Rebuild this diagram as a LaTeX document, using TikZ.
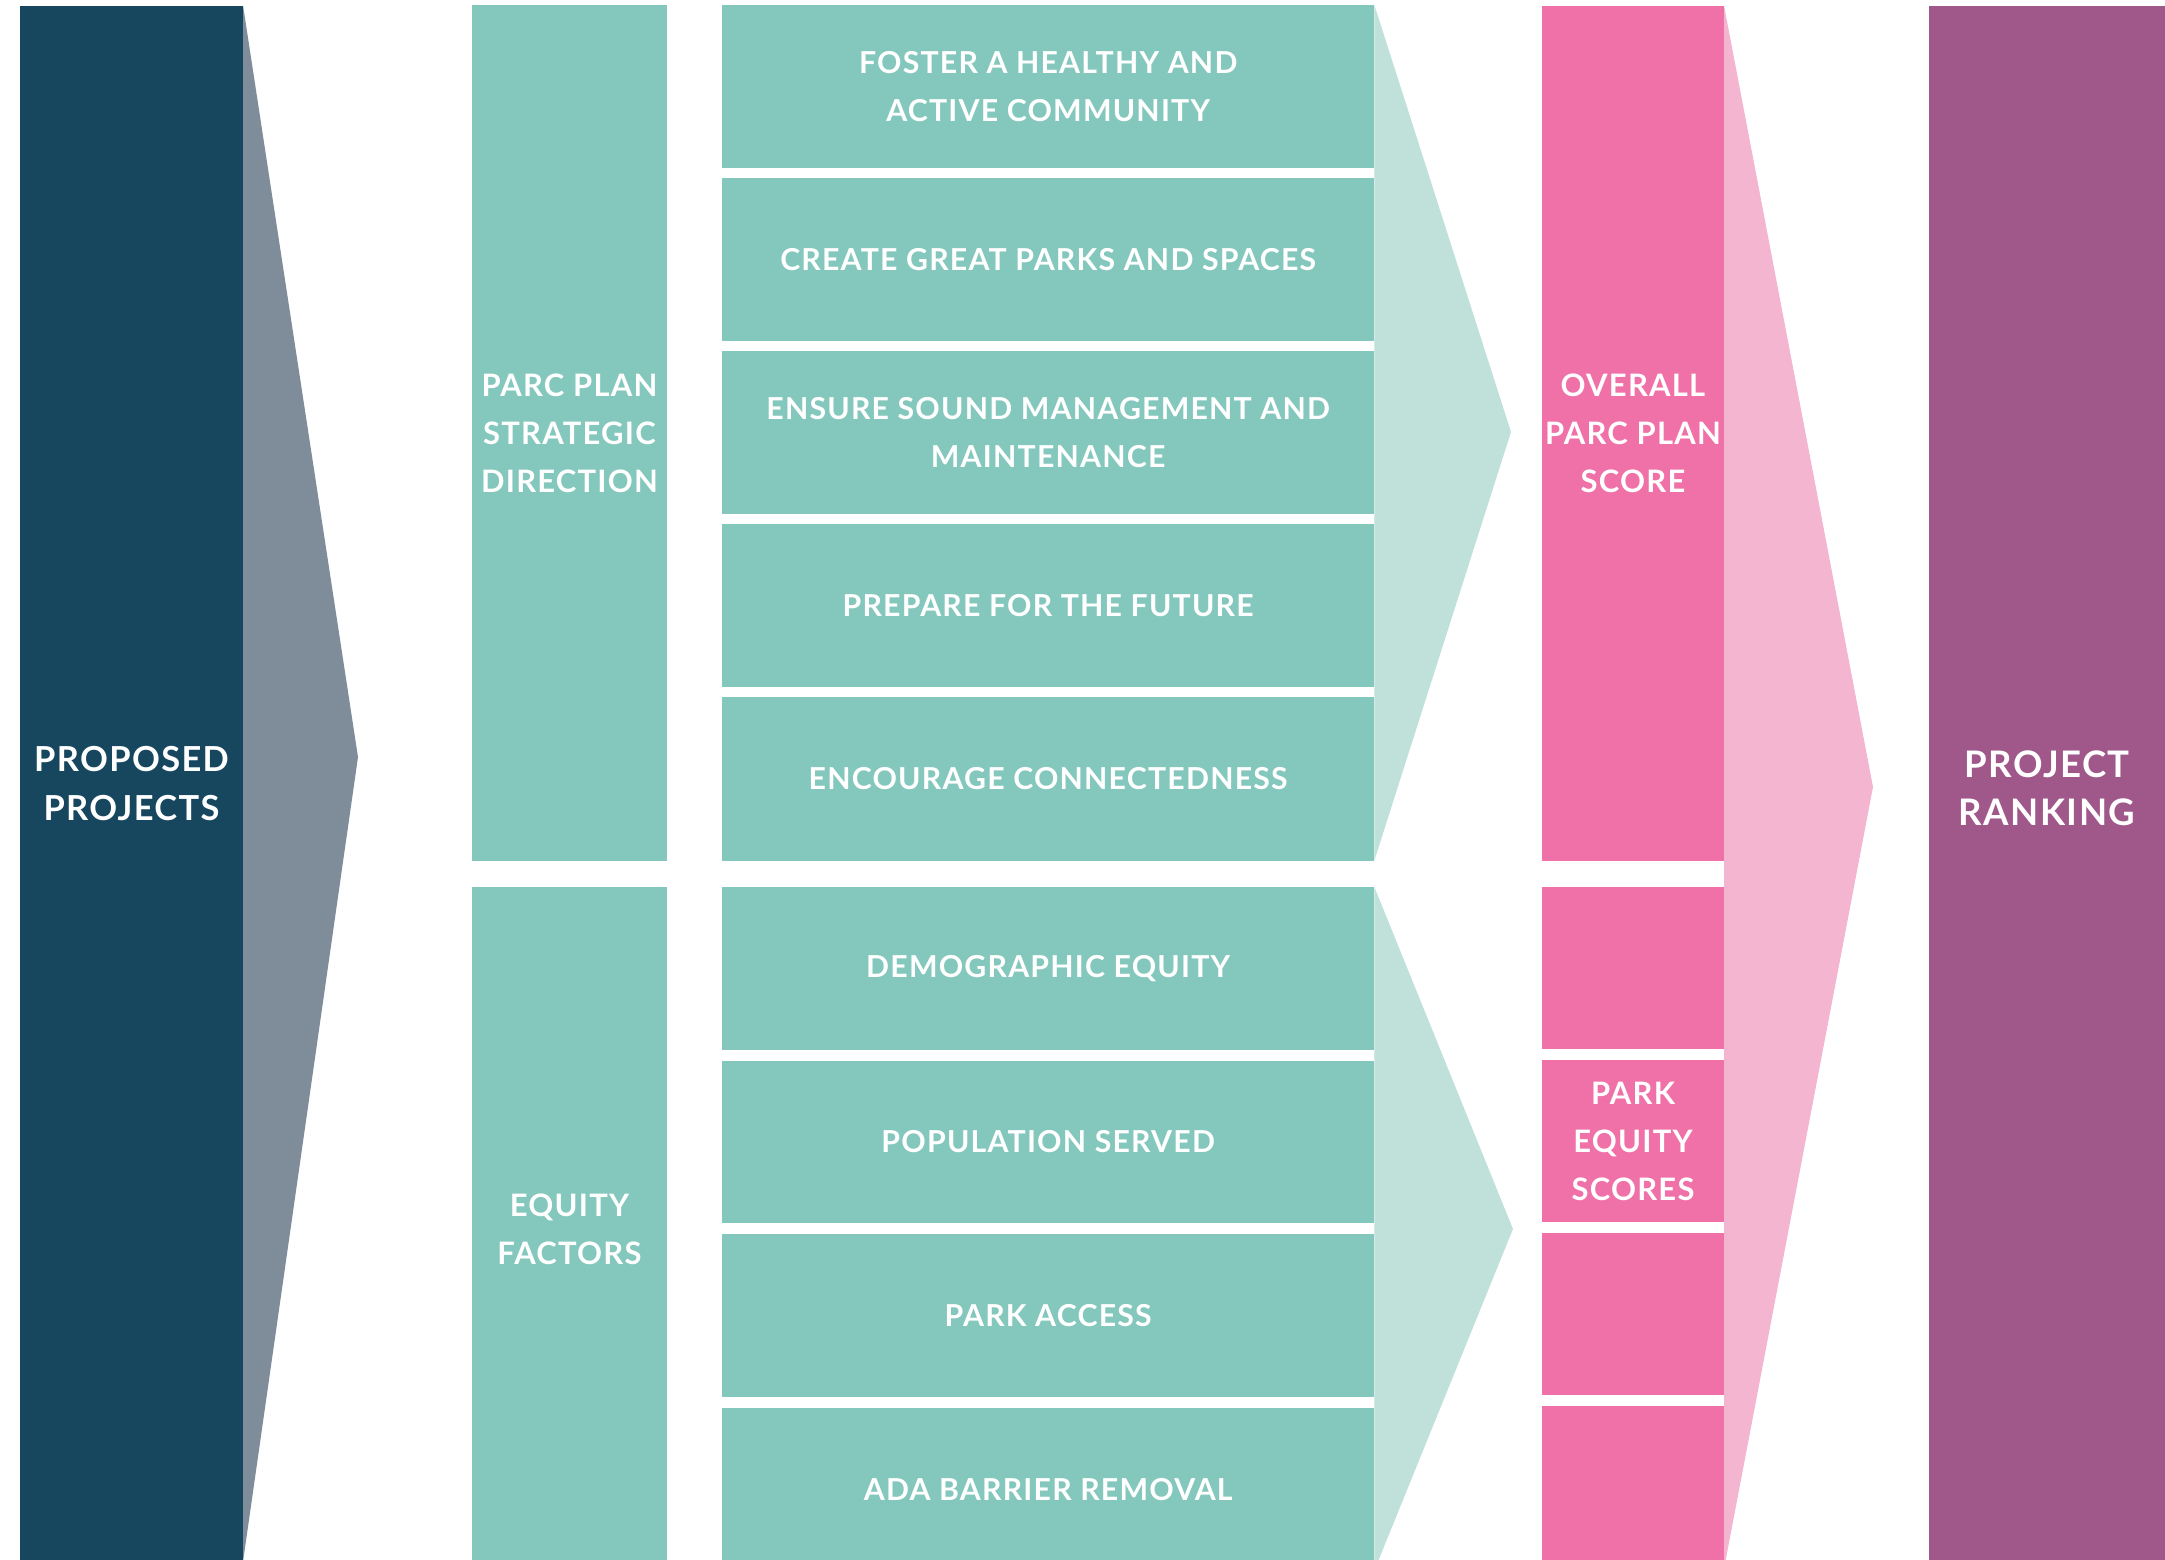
\documentclass[tikz,border=0pt]{standalone}
\usepackage{fontspec}
\setmainfont{Lato}[LetterSpace=4]
\usetikzlibrary{positioning}

\definecolor{navy}{HTML}{16475F}
\definecolor{slate}{HTML}{7F8C9A}
\definecolor{teal_box}{HTML}{84C8BD}
\definecolor{teal_light}{HTML}{C0E0DA}
\definecolor{pink_box}{HTML}{EF71A8}
\definecolor{pink_light}{HTML}{F4B5D1}
\definecolor{plum}{HTML}{A0578A}

\begin{document}
\begin{tikzpicture}[
            x=0.01cm, y=-0.01cm,
            node distance=0.1cm,
            every node/.style={outer sep=0pt, inner sep=0pt},
            column/.style={rectangle, text=white, align=center, font=\fontsize{9.8}{13.7}\selectfont\bfseries},
            side/.style={rectangle, text=white, align=center, minimum width=1.95cm, fill=teal_box, font=\fontsize{8.8}{13.7}\selectfont\bfseries},
            goal/.style={rectangle, fill=teal_box, minimum width=6.52cm, minimum height=1.63cm, text=white, align=center, font=\fontsize{8.6}{13.7}\selectfont\bfseries},
            score/.style={rectangle, fill=pink_box, minimum width=1.82cm, minimum height=1.62cm, text=white, align=center, font=\fontsize{8.8}{13.7}\selectfont\bfseries}
        ]
        \useasboundingbox (0,0) rectangle (2165,1560);
        \clip (0,0) rectangle (2165,1560);

        % Outer columns
        \node[column, fill=navy, anchor=north west, minimum width=2.23cm, minimum height=15.54cm] (proposed_projects) at (20,6) {PROPOSED\\PROJECTS};
        \node[column, fill=plum, anchor=north west, minimum width=2.36cm, minimum height=15.64cm, font=\fontsize{10.4}{13.7}\selectfont\bfseries] (project_ranking) at (1929,6) {PROJECT\\RANKING};

        % Side labels
        \node[side, minimum height=8.56cm] (strategic_direction) at (569.5,433) {PARC PLAN\\STRATEGIC\\DIRECTION};
        \node[side, anchor=north, minimum height=6.85cm] (equity_factors) at (569.5,887) {EQUITY\\FACTORS};

        % Strategic goals
        \node[goal, anchor=north west] (goal_healthy) at (722,5) {FOSTER A HEALTHY AND\\ACTIVE COMMUNITY};
        \node[goal, below=of goal_healthy] (goal_parks) {CREATE GREAT PARKS AND SPACES};
        \node[goal, below=of goal_parks] (goal_manage) {ENSURE SOUND MANAGEMENT AND\\MAINTENANCE};
        \node[goal, below=of goal_manage] (goal_future) {PREPARE FOR THE FUTURE};
        \node[goal, below=of goal_future] (goal_connect) {ENCOURAGE CONNECTEDNESS};

        % Equity factors
        \node[goal, anchor=north west, minimum height=1.625cm] (eq_demographic) at (722,887) {DEMOGRAPHIC EQUITY};
        \node[goal, below=0.11cm of eq_demographic, minimum height=1.625cm] (eq_population) {POPULATION SERVED};
        \node[goal, below=0.11cm of eq_population, minimum height=1.625cm] (eq_access) {PARK ACCESS};
        \node[goal, below=0.11cm of eq_access, minimum height=1.625cm] (eq_ada) {ADA BARRIER REMOVAL};

        % Scores
        \node[score, minimum height=8.55cm] (score_overall) at (1633,433.5) {OVERALL\\PARC PLAN\\SCORE};
        \node[score, anchor=north west] (score_eq1) at (1542,887) {};
        \node[score, below=0.11cm of score_eq1] (score_eq2) {PARK\\EQUITY\\SCORES};
        \node[score, below=0.11cm of score_eq2] (score_eq3) {};
        \node[score, below=0.11cm of score_eq3] (score_eq4) {};

        % Chevron tips
        \coordinate (projects_tip) at (358,757);
        \coordinate (goals_tip) at (1511,432);
        \coordinate (equity_tip) at (1513,1229);
        \coordinate (scores_tip) at (1873,787);

        % Chevrons
        \fill[slate] (proposed_projects.north east) -- (projects_tip) -- (proposed_projects.south east) -- cycle;
        \fill[teal_light] (goal_healthy.north east) -- (goals_tip) -- (goal_connect.south east) -- cycle;
        \fill[teal_light] (eq_demographic.north east) -- (equity_tip) -- (eq_ada.south east) -- cycle;
        \fill[pink_light] (score_overall.north east) -- (scores_tip) -- (score_eq4.south east) -- cycle;

    \end{tikzpicture}
\end{document}
